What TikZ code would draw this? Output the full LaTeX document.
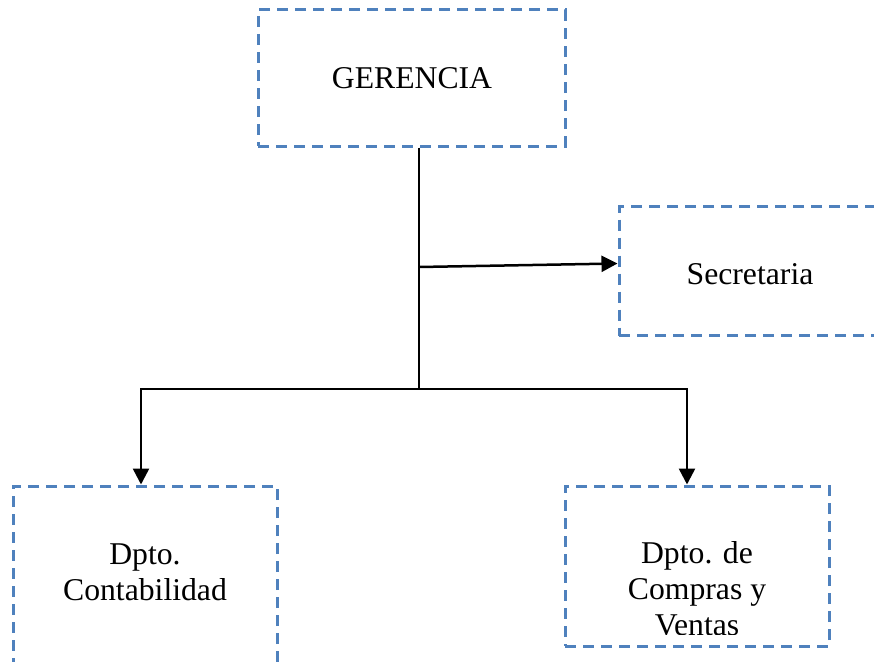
\documentclass[tikz,border=0pt]{standalone}
\usepackage{fontspec}
\setmainfont{Liberation Serif}
\usetikzlibrary{arrows.meta,calc}
\definecolor{boxblue}{RGB}{79,129,189}
\tikzset{
  dbox/.style={draw=boxblue, line width=3pt, dash pattern=on 11pt off 7pt, rectangle, inner sep=0pt},
  conn/.style={draw=black, line width=2.5pt},
  arr/.style={conn, -{Triangle[length=16pt,width=16pt]}},
  txt/.style={anchor=base, inner sep=0pt, font=\fontsize{31.7}{36}\selectfont}
}
\begin{document}
\begin{tikzpicture}[x=1pt,y=-1pt]
\useasboundingbox (0,0) rectangle (874,661);
\clip (0,0) rectangle (874,661);
% boxes
\node[dbox, minimum width=307pt, minimum height=136pt] (ger) at (411.5,78) {};
\node[dbox, minimum width=262pt, minimum height=129pt] (sec) at (750,271) {};
\node[dbox, minimum width=264pt, minimum height=200pt] (cont) at (145,586) {};
\node[dbox, minimum width=264pt, minimum height=160pt] (comp) at (697,566) {};
% texts
\node[txt] (g1) at (412,88) {GERENCIA};
\node[txt] (s1) at (750,284) {Secretaria};
\node[txt] (c1) at (145,564) {Dpto.};
\node[txt] (c2) at (145,600) {Contabilidad};
\node[txt] (v1) at (697,563) {Dpto. de};
\node[txt] (v2) at (697,599) {Compras y};
\begin{scope}
\clip (560,0) rectangle (840,634.5);
\node[txt] (v3) at (697,635) {Ventas};
\end{scope}
% connectors
\coordinate (jn) at (419,389);
\coordinate (sa) at (419,267);
\coordinate (la) at (141,389);
\coordinate (ra) at (687,389);
\draw[conn] (ger.south -| jn) -- (jn);
\draw[arr] (jn) -- (la) -- (la |- cont.north);
\draw[arr] (jn) -- (ra) -- (ra |- comp.north);
\draw[arr] (sa) -- ($(sec.west)+(0,-7.5)$);
\end{tikzpicture}
\end{document}
